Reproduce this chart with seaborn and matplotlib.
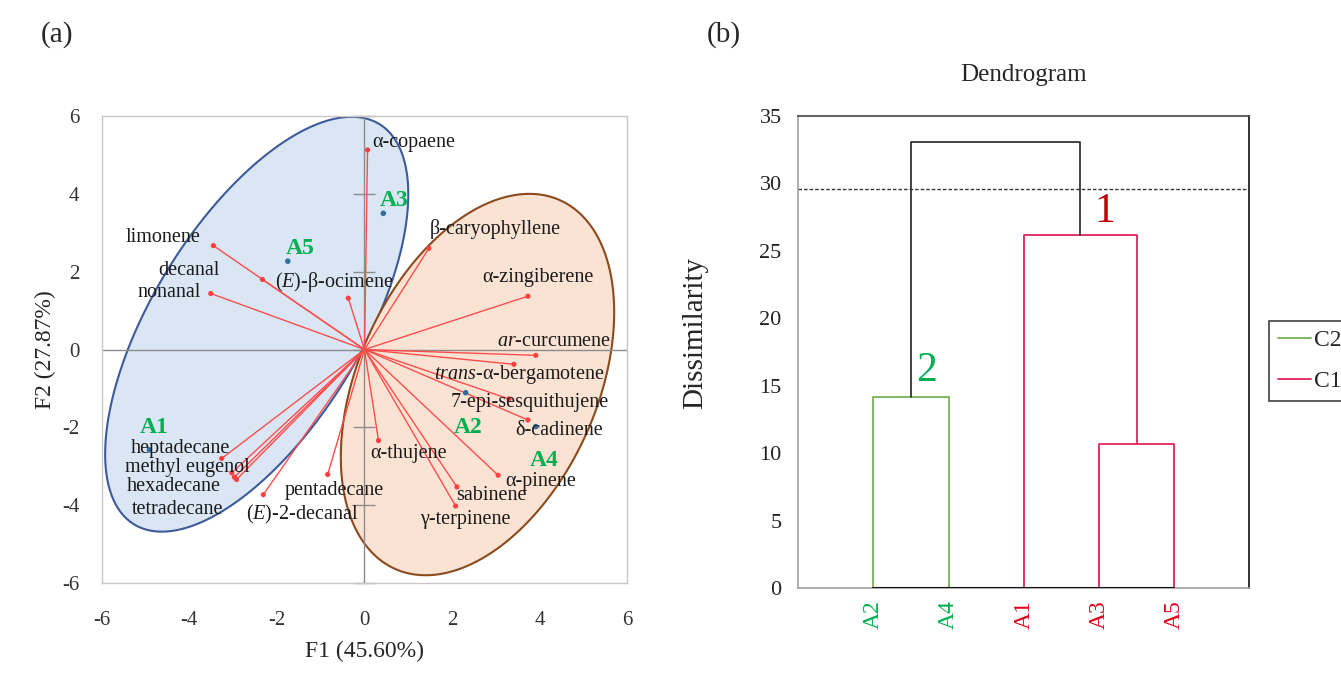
import numpy as np
import matplotlib
matplotlib.use("Agg")
import matplotlib.pyplot as plt
import seaborn as sns
from matplotlib.lines import Line2D

sns.set_theme(style="white")
plt.rcParams["font.family"] = ["Liberation Serif", "DejaVu Serif"]
plt.rcParams["mathtext.fontset"] = "custom"
plt.rcParams["mathtext.rm"] = "Liberation Serif"
plt.rcParams["mathtext.it"] = "Liberation Serif:italic"
plt.rcParams["axes.unicode_minus"] = False

# ---- (a) PCA biplot data ----
var_names = ["α-copaene", "limonene", "decanal", "nonanal", "($\\mathit{E}$)-β-ocimene",
             "β-caryophyllene", "α-zingiberene", "$\\mathit{ar}$-curcumene",
             "$\\mathit{trans}$-α-bergamotene", "7-epi-sesquithujene", "δ-cadinene",
             "α-pinene", "sabinene", "γ-terpinene", "α-thujene", "pentadecane",
             "($\\mathit{E}$)-2-decanal", "heptadecane", "methyl eugenol",
             "hexadecane", "tetradecane"]
var_f1 = [0.07, -3.45, -2.33, -3.51, -0.37, 1.47, 3.73, 3.91, 3.41, 3.30, 3.73,
          3.05, 2.11, 2.08, 0.32, -0.84, -2.31, -3.26, -3.03, -2.92, -2.97]
var_f2 = [5.13, 2.67, 1.80, 1.44, 1.32, 2.60, 1.37, -0.15, -0.38, -1.27, -1.81,
          -3.23, -3.53, -4.02, -2.34, -3.21, -3.73, -2.80, -3.17, -3.34, -3.28]
# where each variable name is written (anchor x, y, alignment)
lab_x = [0.17, -3.75, -3.30, -3.73, -2.04, 1.50, 2.68, 3.02, 1.59, 1.97, 3.44,
         3.21, 2.10, 1.27, 0.14, -1.83, -2.71, -3.07, -2.63, -3.28, -3.22]
lab_y = [5.33, 2.88, 2.04, 1.46, 1.74, 3.10, 1.85, 0.20, -0.63, -1.36, -2.07,
         -3.38, -3.76, -4.38, -2.67, -3.61, -4.23, -2.54, -3.04, -3.53, -4.12]
lab_ha = ["left", "right", "right", "right", "left", "left", "left", "left", "left",
          "left", "left", "left", "left", "left", "left", "left", "left",
          "right", "right", "right", "right"]

obs_names = ["A1", "A2", "A3", "A4", "A5"]
obs_f1 = [-4.91, 2.31, 0.43, 3.91, -1.75]
obs_f2 = [-2.58, -1.11, 3.50, -1.98, 2.27]
obs_lab_x = [-5.12, 2.04, 0.35, 3.78, -1.79]
obs_lab_y = [-2.00, -2.01, 3.84, -2.85, 2.60]

# confidence ellipses: centre, half-extent in F1/F2, covariance term
ell_blue = dict(cx=-2.46, cy=0.65, hx=3.46, hy=5.33, sxy=11.55)
ell_orange = dict(cx=2.58, cy=-0.90, hx=3.12, hy=4.90, sxy=5.80)

pca_ticks = [-6, -4, -2, 0, 2, 4, 6]

# ---- (b) dendrogram data ----
leaves = ["A2", "A4", "A1", "A3", "A5"]
leaf_colors = ["#00b050", "#00b050", "#e3001b", "#e3001b", "#e3001b"]
h_a2_a4 = 14.16
h_a3_a5 = 10.70
h_a1_a35 = 26.20
h_root = 33.06
cut_level = 29.6


def ellipse_xy(e, n=300):
    t = np.linspace(0, 2 * np.pi, n)
    b = np.sqrt(e["hy"] ** 2 - (e["sxy"] / e["hx"]) ** 2)
    x = e["cx"] + e["hx"] * np.cos(t)
    y = e["cy"] + (e["sxy"] / e["hx"]) * np.cos(t) + b * np.sin(t)
    return x, y


fig = plt.figure(figsize=(13.41, 6.73), dpi=100)

# ================= (a) =================
ax = fig.add_axes([0.0758, 0.1337, 0.392, 0.6939])
for e, fc, ec in [(ell_blue, "#dae6f3", "#3d5a9a"), (ell_orange, "#fbe3d4", "#8b4a1c")]:
    ex, ey = ellipse_xy(e)
    ax.fill(ex, ey, facecolor=fc, edgecolor=ec, lw=1.5, zorder=1)

ax.axhline(0, color="#8c8c8c", lw=1, zorder=2)
ax.axvline(0, color="#8c8c8c", lw=1, zorder=2)
ax.plot(np.zeros(len(pca_ticks)), pca_ticks, ls="none", marker="_", ms=16,
        mew=1, color="#8c8c8c", zorder=2, clip_on=False)

for x, y in zip(var_f1, var_f2):
    ax.plot([0, x], [0, y], color="#ff4d4d", lw=1, zorder=3)
sns.scatterplot(x=var_f1, y=var_f2, ax=ax, color="#ff4040", s=14,
                edgecolor="none", zorder=4)
sns.scatterplot(x=obs_f1, y=obs_f2, ax=ax, color="#2f6f9f", s=16,
                edgecolor="none", zorder=4)

for name, x, y, ha in zip(var_names, lab_x, lab_y, lab_ha):
    ax.text(x, y, name, ha=ha, va="center", fontsize=14.5, color="#1a1a1a", zorder=5)
for name, x, y in zip(obs_names, obs_lab_x, obs_lab_y):
    ax.text(x, y, name, ha="left", va="center", fontsize=17, fontweight="bold",
            color="#00b050", zorder=5)

ax.set_xlim(-6, 6)
ax.set_ylim(-6, 6)
ax.set_xticks(pca_ticks)
ax.set_yticks(pca_ticks)
ax.tick_params(length=0, labelsize=15, colors="#333333")
ax.tick_params(axis="x", pad=20)
ax.tick_params(axis="y", pad=16)
for s in ax.spines.values():
    s.set_color("#c8c8c8")
    s.set_linewidth(1)
ax.set_xlabel("F1 (45.60%)", fontsize=17, labelpad=8)
ax.set_ylabel("F2 (27.87%)", fontsize=17, labelpad=4)
fig.text(57 / 1341, 1 - 35 / 673, "(a)", fontsize=21, ha="center", va="center")

# ================= (b) =================
bx = fig.add_axes([0.5953, 0.1263, 0.3363, 0.7013])
pos = {name: i + 1 for i, name in enumerate(leaves)}
green, red = "#77b255", "#e2245a"

x24 = (pos["A2"] + pos["A4"]) / 2
x35 = (pos["A3"] + pos["A5"]) / 2
x135 = (pos["A1"] + x35) / 2
bx.plot([pos["A2"], pos["A2"], pos["A4"], pos["A4"]], [0, h_a2_a4, h_a2_a4, 0],
        color=green, lw=1.3)
bx.plot([pos["A3"], pos["A3"], pos["A5"], pos["A5"]], [0, h_a3_a5, h_a3_a5, 0],
        color=red, lw=1.3)
bx.plot([pos["A1"], pos["A1"], x35, x35], [0, h_a1_a35, h_a1_a35, h_a3_a5],
        color=red, lw=1.3)
bx.plot([x24, x24, x135, x135], [h_a2_a4, h_root, h_root, h_a1_a35],
        color="#222222", lw=1.2)
bx.plot([pos["A2"], pos["A5"]], [0, 0], color="#111111", lw=1.5, zorder=3)
bx.axhline(cut_level, color="#333333", lw=1, ls=(0, (2.5, 1.5)))

bx.text(x24 + 0.2, h_a2_a4 + 0.5, "2", color="#00b050", fontsize=30,
        ha="center", va="bottom")
bx.text(x135 + 0.33, h_a1_a35 + 0.3, "1", color="#c00000", fontsize=30,
        ha="center", va="bottom")

bx.set_xlim(0, 6)
bx.set_ylim(0, 35)
bx.set_yticks(range(0, 36, 5))
bx.set_xticks([pos[n] for n in leaves])
bx.set_xticklabels(leaves, rotation=90, fontsize=17)
for lbl, c in zip(bx.get_xticklabels(), leaf_colors):
    lbl.set_color(c)
bx.tick_params(axis="x", length=0, pad=9)
bx.tick_params(axis="y", direction="inout", length=12, width=1, color="#a0a0a0",
               labelsize=16, labelcolor="#222222", pad=6)
bx.spines["left"].set_color("#a0a0a0")
bx.spines["bottom"].set_color("#a0a0a0")
bx.spines["top"].set_color("#444444")
bx.spines["right"].set_color("#111111")
for s in bx.spines.values():
    s.set_linewidth(1.2)
bx.set_ylabel("Dissimilarity", fontsize=21)
bx.yaxis.set_label_coords(-0.2, 0.54)
bx.text(0.5, 1.087, "Dendrogram", transform=bx.transAxes, ha="center", va="center",
        fontsize=18)

handles = [Line2D([0], [0], color=green, lw=1.3), Line2D([0], [0], color=red, lw=1.3)]
leg = bx.legend(handles, ["C2", "C1"], loc="upper left", bbox_to_anchor=(1.043, 0.566),
                frameon=True, fancybox=False, fontsize=17, handlelength=1.4,
                handletextpad=0.15, labelspacing=0.8, borderpad=0.38,
                borderaxespad=0)
leg.get_frame().set_edgecolor("#111111")
leg.get_frame().set_linewidth(1.2)
fig.text(724 / 1341, 1 - 35 / 673, "(b)", fontsize=21, ha="center", va="center")

fig.savefig("out.png", dpi=100)
